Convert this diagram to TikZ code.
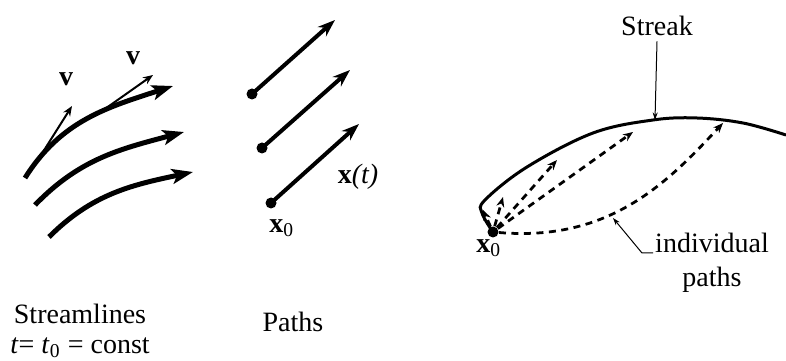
\documentclass[tikz,border=0pt]{standalone}
\usepackage{fontspec}
\setmainfont{Liberation Serif}
\usetikzlibrary{arrows.meta}

\begin{document}
\begin{tikzpicture}[x=0.4pt,y=0.4pt,
    lbl/.style={font=\fontsize{11.2}{13.5}\selectfont,inner sep=0pt},
    sline/.style={line width=2pt,-{Stealth[length=8.5pt,width=6pt,inset=2pt]}},
    vel/.style={line width=0.8pt,-{Stealth[length=4pt,width=3.2pt]}},
    pth/.style={line width=1.6pt,-{Stealth[length=7pt,width=5pt]}},
    dot/.style={circle,fill,inner sep=0pt,minimum size=4.4pt},
    streak/.style={line width=1.2pt},
    dsh/.style={line width=1.1pt,dash pattern=on 2.8pt off 2.2pt,
                -{Stealth[length=4pt,width=3.2pt]}},
    ptr/.style={line width=0.4pt,-{Stealth[length=3pt,width=2pt]}}
  ]
  \useasboundingbox (0,0) rectangle (786,360);
  % streamlines
  \coordinate (a1) at (25,182);  \coordinate (b1) at (173,274);
  \coordinate (a2) at (35,155);  \coordinate (b2) at (184,228);
  \coordinate (a3) at (49,123);  \coordinate (b3) at (193,188);
  \draw[sline] (a1) to[out=58,in=198]
    coordinate[pos=0.12] (v1a) coordinate[pos=0.58] (v2a) (b1);
  \draw[sline] (a2) to[out=46,in=195] (b2);
  \draw[sline] (a3) to[out=45,in=192] (b3);
  \coordinate (v1b) at (72,254);
  \coordinate (v2b) at (153,285);
  \draw[vel] (v1a) -- (v1b);
  \draw[vel] (v2a) -- (v2b);
  \node[lbl] (v1) at (66,281) {\textbf{v}};
  \node[lbl] (v2) at (133,302) {\textbf{v}};
  \node[lbl] (sl) at (80,46) {Streamlines};
  \node[lbl] (tc) at (80,12) {\textit{t}= \textit{t}\textsubscript{0} = const};
  % paths
  \node[dot] (p1) at (252,266) {};
  \node[dot] (p2) at (262,212) {};
  \node[dot] (p3) at (271,157) {};
  \coordinate (q1) at (335,340);
  \coordinate (q2) at (350,290);
  \coordinate (q3) at (359,236);
  \draw[pth] (p1.center) -- (q1);
  \draw[pth] (p2.center) -- (q2);
  \draw[pth] (p3.center) -- (q3);
  \node[lbl] (x0p) at (282,132) {\textbf{x}\textsubscript{0}};
  \node[lbl] (xt) at (358,183) {\textbf{x}\textit{(t)}};
  \node[lbl] (ph) at (293,38) {Paths};
  % streak
  \node[dot] (x0) at (493,128) {};
  \draw[streak] plot[smooth,tension=0.6] coordinates
    {(493,128) (482,147) (485,160) (527,193) (593,227) (653,240)
     (697,242) (743,237) (786,225)};
  \coordinate (d0) at (483,150);
  \coordinate (d1) at (503,163);
  \coordinate (d2) at (557,200);
  \coordinate (d3) at (633,228);
  \coordinate (d4) at (723,237);
  \draw[dsh] (x0) -- (d0);
  \draw[dsh] (x0) -- (d1);
  \draw[dsh] (x0) -- (d2);
  \draw[dsh] (x0) -- (d3);
  \draw[dsh] (x0) .. controls (610,118) and (668,178) .. (d4);
  \node[lbl] (x0s) at (489,112) {\textbf{x}\textsubscript{0}};
  \node[lbl] (sk) at (657,334) {Streak};
  \coordinate (sp) at (655,240);
  \draw[ptr] ([yshift=-2pt]sk.south) -- (sp);
  \node[lbl,align=center] (ip) at (712,97) {individual\\paths};
  \coordinate (ik) at (653,107);
  \coordinate (it) at (613,142);
  \draw[ptr] (ik) -- ++(-11,0) -- (it);
\end{tikzpicture}
\end{document}
